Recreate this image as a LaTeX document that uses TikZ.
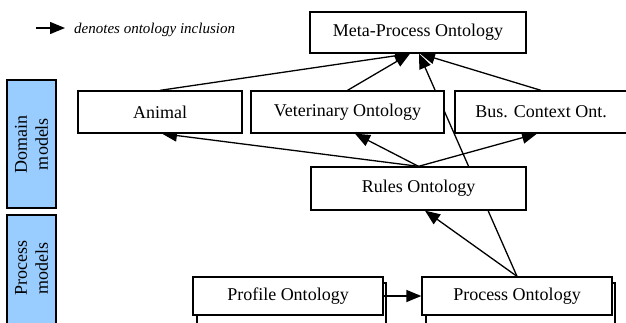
\documentclass[tikz,border=0pt]{standalone}
\usepackage{fontspec}
\setmainfont{Liberation Serif}
\usetikzlibrary{arrows.meta,backgrounds}
\definecolor{sideblue}{RGB}{153,204,255}
\begin{document}
\begin{tikzpicture}[x=1pt,y=-1pt,
  box/.style={draw,line width=1.3pt,fill=white,inner sep=0pt,font=\fontsize{18}{21}\selectfont},
  backbox/.style={draw,line width=1.3pt,fill=white},
  sidebox/.style={draw,line width=1.3pt,fill=sideblue},
  sidelabel/.style={rotate=90,align=center,inner sep=0pt,font=\fontsize{18}{21}\selectfont},
  incl/.style={line width=1.3pt,-{Triangle[length=15pt,width=12pt]}}]
\useasboundingbox (0,0) rectangle (626,322);
\clip (0,0) rectangle (626,322);
% legend
\coordinate (lgA) at (36,28);
\coordinate (lgB) at (65,28);
\draw[incl] (lgA) -- (lgB);
\node[anchor=base west,inner sep=0pt,font=\fontsize{15}{18}\selectfont\itshape] (legend) at (74,33) {denotes ontology inclusion};
% side boxes
\draw[sidebox] (7,80) rectangle (56,208);
\node[sidelabel] (dom) at (31.5,144) {Domain\\models};
\draw[sidebox] (7,215) rectangle (56,330);
\node[sidelabel] (proc) at (31.5,268) {Process\\models};
% back boxes of stacks
\draw[backbox] (197,283) rectangle (386,330);
\draw[backbox] (426,283) rectangle (615,330);
% main boxes
\node[box,minimum width=216pt,minimum height=41pt] (meta) at (418,32.5) {Meta-Process Ontology};
\node[box,minimum width=164pt,minimum height=42pt] (animal) at (160,112) {Animal};
\node[box,minimum width=193pt,minimum height=42pt] (vet) at (347.5,112) {Veterinary Ontology};
\node[box,minimum width=172pt,minimum height=42pt] (bus) at (541,112) {Bus. Context Ont.};
\node[box,minimum width=215pt,minimum height=43pt] (rules) at (418.5,188.5) {Rules Ontology};
\node[box,minimum width=190pt,minimum height=38pt] (profile) at (288,296) {Profile Ontology};
\node[box,minimum width=190pt,minimum height=38pt] (process) at (517,296) {Process Ontology};
% connectors
\begin{scope}[on background layer]
\draw[incl] (animal.north) -- ([xshift=-8pt]meta.south);
\draw[incl] (vet.north) -- ([xshift=-8pt]meta.south);
\draw[incl] (bus.north) -- ([xshift=2pt]meta.south);
\draw[incl] (process.north) -- ([xshift=1pt]meta.south);
\draw[incl] (rules.north) -- ([xshift=2pt]animal.south);
\draw[incl] (rules.north) -- ([xshift=7.5pt]vet.south);
\draw[incl] (rules.north) -- ([xshift=-4pt]bus.south);
\draw[incl] (process.north) -- ([xshift=6.5pt]rules.south);
\end{scope}
\draw[incl] (profile.east) -- (process.west);
\end{tikzpicture}
\end{document}
